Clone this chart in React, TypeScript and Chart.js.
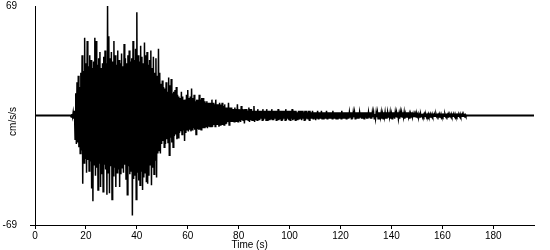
import { useEffect, useRef } from 'react';
import { Chart, registerables } from 'chart.js';

Chart.register(...registerables);

// Accelerogram samples (cm/s/s), starting at T0 with step DT seconds
const T0 = 14;
const DT = 0.25;
const accel = [
  0, -1, 1, -1, 2, -2, 3, -15, 14, -18, 21, -17, 25, -20, 18, -24, 27, -22, 38, -43,
  28, -30, 49, -27, 33, -36, 47, -28, 31, -35, 38, -29, 35, -46, 30, -54, 34, -31, 49, -38,
  47, -33, 32, -47, 36, -30, 40, -45, 30, -37, 33, -48, 37, -31, 41, -34, 33, -50, 69, -36,
  50, -49, 36, -32, 40, -53, 34, -38, 47, -33, 38, -45, 32, -36, 41, -34, 35, -45, 33, -37,
  39, -33, 31, -36, 45, -31, 36, -40, 33, -50, 38, -32, 41, -37, 34, -35, 36, -63, 47, -40,
  35, -38, 42, -53, 65, -36, 38, -41, 34, -44, 44, -35, 37, -47, 33, -39, 46, -36, 38, -42,
  40, -43, 32, -38, 35, -31, 41, -44, 30, -33, 37, -37, 27, -28, 36, -39, 25, -24, 42, -22,
  27, -24, 20, -18, 22, -16, 18, -20, 17, -18, 21, -15, 15, -17, 24, -25, 19, -14, 23, -17,
  14, -20, 15, -13, 16, -12, 18, -15, 13, -14, 12, -11, 11, -10, 15, -12, 12, -9, 10, -16,
  10, -11, 13, -9, 16, -10, 11, -9, 12, -10, 17, -9, 11, -8, 13, -9, 9, -12, 10, -8,
  10, -9, 13, -9, 10, -9, 11, -8, 11, -8, 9, -8, 8, -7, 9, -8, 8, -7, 8, -7,
  8, -7, 10, -7, 8, -6, 7, -7, 10, -6, 7, -6, 7, -7, 8, -6, 7, -6, 8, -6,
  6, -6, 7, -5, 5, -5, 5, -4, 8, -6, 5, -4, 5, -4, 4, -4, 4, -4, 5, -4,
  4, -4, 7, -4, 4, -3, 4, -4, 6, -3, 4, -3, 4, -5, 4, -3, 4, -3, 3, -3,
  5, -4, 4, -3, 4, -3, 3, -3, 6, -4, 3, -3, 3, -3, 4, -3, 3, -3, 3, -2,
  3, -3, 4, -3, 3, -2, 3, -3, 4, -3, 3, -3, 3, -3, 3, -2, 4, -3, 3, -3,
  3, -2, 3, -3, 3, -3, 4, -3, 3, -2, 3, -3, 3, -3, 3, -2, 3, -3, 4, -3,
  3, -2, 3, -3, 3, -3, 3, -2, 4, -3, 3, -2, 3, -3, 3, -3, 2, -3, 3, -2,
  3, -2, 3, -3, 3, -2, 2, -3, 3, -3, 3, -2, 2, -2, 3, -3, 3, -2, 2, -2,
  3, -2, 2, -2, 2, -3, 2, -2, 3, -2, 2, -2, 2, -2, 3, -2, 2, -2, 2, -2,
  2, -2, 3, -2, 2, -2, 2, -2, 2, -2, 2, -2, 3, -2, 2, -2, 2, -2, 2, -2,
  2, -2, 2, -2, 2, -2, 3, -2, 2, -2, 2, -2, 2, -2, 2, -2, 2, -2, 2, -1,
  2, -2, 2, -2, 2, -1, 2, -2, 2, -2, 2, -2, 2, -2, 2, -1, 2, -2, 2, -2,
  2, -2, 2, -1, 2, -2, 2, -2, 2, -1, 2, -2, 2, -2, 2, -1, 2, -2, 1, -2,
  2, -1, 2, -2, 2, -2, 2, -1, 2, -2, 1, -2, 2, -1, 2, -2, 2, -2, 2, -1,
  2, -1, 2, -2, 1, -2, 2, -1, 2, -2, 2, -1, 2, -1, 2, -2, 1, -2, 2, -1,
  2, -1, 2, -1, 2, -2, 1, -1, 2, -1, 2, -1, 1, -2, 1, -1, 2, -1, 1, -1,
  1, -1, 1, -1, 1, -0.5, 1, -1, 0.5, -1, 1, -0.5, 1, -1, 0.5, -0.5, 1, -0.5, 0.5, -1,
  0.5, -0.5, 1, -0.5, 0.5, -1, 0.5, -0.5, 1, -0.5, 0.5, -0.5, 0.5, -0.5, 1, -0.5, 0.5, -0.5, 0.5, -1,
  0.5, -0.5, 1, -0.5, 0.5, -0.5, 0.5, -0.5, 1, -0.5, 0.5, -0.5, 0.5, -1, 0.5, -0.5, 0.5, -0.5, 1, -0.5,
  0.5, -0.5, 0.5, -0.5, 1, -0.5, 0.5, -0.5, 0.5, -0.5, 0.5, -0.5, 1, -0.5, 0.5, -0.5, 0.5, -0.5, 0.5, -0.5,
  0.5, -0.5, 0, 0,
];

// Quiet baseline before and after the shaking
const baseT = [0, 196];
const baseV = [0, 0];

const X_MIN = 0;
const X_MAX = 196;
const Y_MIN = -69;
const Y_MAX = 69;
const xTicks = [0, 20, 40, 60, 80, 100, 120, 140, 160, 180];
const yTicks = [-69, 69];
const X_TITLE = 'Time (s)';
const Y_TITLE = 'cm/s/s';

const FAMILY = '"Liberation Sans", Arial, sans-serif';

export default function App() {
  const ref = useRef<HTMLCanvasElement | null>(null);

  useEffect(() => {
    if (!ref.current) return;
    const wave = accel.map((v, i) => ({ x: T0 + i * DT, y: v }));
    const base = baseT.map((t, i) => ({ x: t, y: baseV[i] }));

    const titles = {
      id: 'axisTitles',
      afterDraw(chart: any) {
        const { ctx, chartArea } = chart;
        ctx.save();
        ctx.fillStyle = '#000';
        ctx.font = `10px ${FAMILY}`;
        ctx.textAlign = 'center';
        ctx.textBaseline = 'middle';
        const w = chartArea.right - chartArea.left;
        ctx.fillText(X_TITLE, chartArea.left + w * 0.43, chartArea.bottom + 20);
        ctx.translate(chartArea.left - 22, (chartArea.top + chartArea.bottom) / 2 + 6);
        ctx.rotate(-Math.PI / 2);
        ctx.fillText(Y_TITLE, 0, 0);
        ctx.restore();
      },
    };

    const chart = new Chart(ref.current, {
      type: 'line',
      data: {
        datasets: [
          {
            data: wave,
            borderColor: '#000',
            borderWidth: 1.5,
            pointRadius: 0,
            tension: 0,
            fill: false,
          },
          {
            data: base,
            borderColor: '#000',
            borderWidth: 2,
            pointRadius: 0,
            tension: 0,
            fill: false,
          },
        ],
      },
      options: {
        animation: false,
        responsive: false,
        devicePixelRatio: 1,
        events: [],
        layout: { padding: { left: 0, right: 16, top: 6, bottom: 0 } },
        plugins: { legend: { display: false }, tooltip: { enabled: false }, title: { display: false } },
        scales: {
          x: {
            type: 'linear',
            min: X_MIN,
            max: X_MAX,
            afterBuildTicks: (s: any) => {
              s.ticks = xTicks.map((v) => ({ value: v }));
            },
            afterFit: (s: any) => {
              s.height = 25;
              s.paddingLeft = 0;
              s.paddingRight = 0;
            },
            grid: { drawOnChartArea: false, drawTicks: true, tickLength: 4, color: '#000', lineWidth: 1 },
            border: { display: true, color: '#000', width: 1 },
            ticks: {
              color: '#000',
              font: { family: FAMILY, size: 10 },
              padding: 1,
              maxRotation: 0,
              autoSkip: false,
            },
          },
          y: {
            type: 'linear',
            min: Y_MIN,
            max: Y_MAX,
            afterBuildTicks: (s: any) => {
              s.ticks = yTicks.map((v) => ({ value: v }));
            },
            afterFit: (s: any) => {
              s.width = 35;
              s.paddingTop = 0;
              s.paddingBottom = 0;
            },
            grid: {
              drawOnChartArea: false,
              drawTicks: true,
              tickLength: 5,
              color: (c: any) => (c.tick && c.tick.value === Y_MIN ? '#000' : 'rgba(0,0,0,0)'),
            },
            border: { display: true, color: '#000', width: 1 },
            ticks: {
              color: '#000',
              font: { family: FAMILY, size: 10 },
              padding: 13,
              callback: (v: any) => String(v),
            },
          },
        },
      },
      plugins: [titles],
    });

    return () => chart.destroy();
  }, []);

  return (
    <div style={{ position: 'absolute', left: 0, top: 0, width: 550, height: 250, background: '#fff' }}>
      <canvas ref={ref} width={550} height={250} />
    </div>
  );
}
